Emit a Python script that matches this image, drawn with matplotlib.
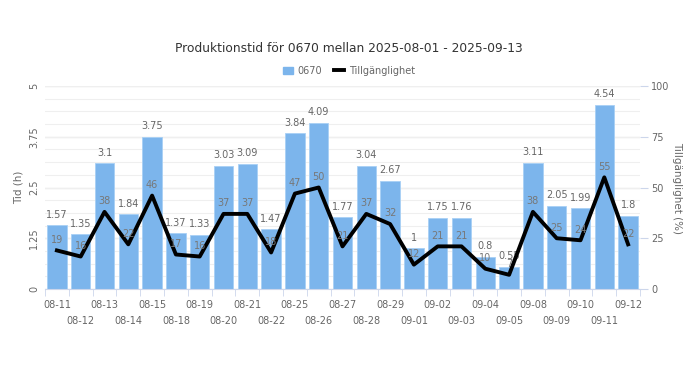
import numpy as np
import matplotlib.pyplot as plt
from matplotlib.lines import Line2D
from matplotlib.patches import Patch

dates = ['08-11', '08-12', '08-13', '08-14', '08-15', '08-18', '08-19', '08-20',
         '08-21', '08-22', '08-25', '08-26', '08-27', '08-28', '08-29', '09-01',
         '09-02', '09-03', '09-04', '09-05', '09-08', '09-09', '09-10', '09-11',
         '09-12']
tid = [1.57, 1.35, 3.1, 1.84, 3.75, 1.37, 1.33, 3.03, 3.09, 1.47, 3.84, 4.09,
       1.77, 3.04, 2.67, 1, 1.75, 1.76, 0.8, 0.55, 3.11, 2.05, 1.99, 4.54, 1.8]
tillg = [19, 16, 38, 22, 46, 17, 16, 37, 37, 18, 47, 50, 21, 37, 32, 12, 21, 21,
         10, 7, 38, 25, 24, 55, 22]

grey = '#666666'
bar_color = '#7cb5ec'

fig = plt.figure(figsize=(6.98, 3.92), dpi=100)
ax = fig.add_axes([45 / 698, 1 - 289 / 392, 595 / 698, 203 / 392])
ax2 = ax.twinx()

x = np.arange(len(dates))
ax.bar(x, tid, width=0.82, color=bar_color, edgecolor='#a8d0f5', linewidth=0.6, zorder=2)
for xi, v in zip(x, tid):
    ax.annotate(f'{v:g}', (xi, v), xytext=(0, 4), textcoords='offset points',
                ha='center', va='bottom', fontsize=7, color=grey, zorder=5)

ax2.plot(x, tillg, color='black', linewidth=2.8, zorder=4)
for xi, v in zip(x, tillg):
    ax2.annotate(f'{v}', (xi, v), xytext=(0, 4), textcoords='offset points',
                 ha='center', va='bottom', fontsize=7, color='#777777', zorder=5)

ax.set_xlim(-0.5, len(dates) - 0.5)
ax.set_ylim(0, 5)
ax2.set_ylim(0, 100)

# grid: major at every tick, minor in between
for yv in np.arange(0, 5.01, 1.25):
    ax.axhline(yv, color='#d8d8d8', linewidth=0.9, zorder=0)
for yv in np.arange(0, 5.01, 0.3125):
    ax.axhline(yv, color='#efefef', linewidth=0.8, zorder=0)

ax.set_yticks([0, 1.25, 2.5, 3.75, 5])
ax.set_yticklabels(['0', '1.25', '2.5', '3.75', '5'], rotation=90, va='center')
ax2.set_yticks([0, 25, 50, 75, 100])

# x labels staggered in two rows
ax.set_xticks([])
ax.set_xticks(np.arange(-0.5, len(dates)), minor=True)
ax.tick_params(axis='x', which='minor', length=5, color='#ccd6eb', labelbottom=False)
for i, d in enumerate(dates):
    off = -15 if i % 2 == 0 else -27
    ax.annotate(d, (i, 0), xycoords=('data', 'axes fraction'), xytext=(0, off),
                textcoords='offset points', ha='center', va='bottom',
                fontsize=7, color=grey)

ax.tick_params(axis='y', length=0, labelsize=7, labelcolor=grey, pad=4)
ax2.tick_params(axis='y', length=6, color='#ccd6eb', labelsize=7, labelcolor=grey, pad=2)

for a in (ax, ax2):
    for s in a.spines.values():
        s.set_visible(False)
ax.spines['bottom'].set_visible(True)
ax.spines['bottom'].set_color('#ccd6eb')

ax.set_ylabel('Tid (h)', fontsize=7.5, color=grey, labelpad=4)
ax2.set_ylabel('Tillgänglighet (%)', fontsize=7.5, color=grey, rotation=270, labelpad=9)

fig.text(0.5, 1 - 48 / 392, 'Produktionstid för 0670 mellan 2025-08-01 - 2025-09-13',
         ha='center', va='center', fontsize=8.8, color='#333333')

handles = [Patch(color=bar_color), Line2D([], [], color='black', linewidth=2.8)]
leg = fig.legend(handles, ['0670', 'Tillgänglighet'], loc='center',
                 bbox_to_anchor=(0.5, 1 - 71 / 392), ncol=2, frameon=False,
                 fontsize=7, handlelength=1.0, handleheight=0.8, columnspacing=1.2,
                 handletextpad=0.5)
for t in leg.get_texts():
    t.set_color(grey)

fig.savefig('out.png', dpi=100)
